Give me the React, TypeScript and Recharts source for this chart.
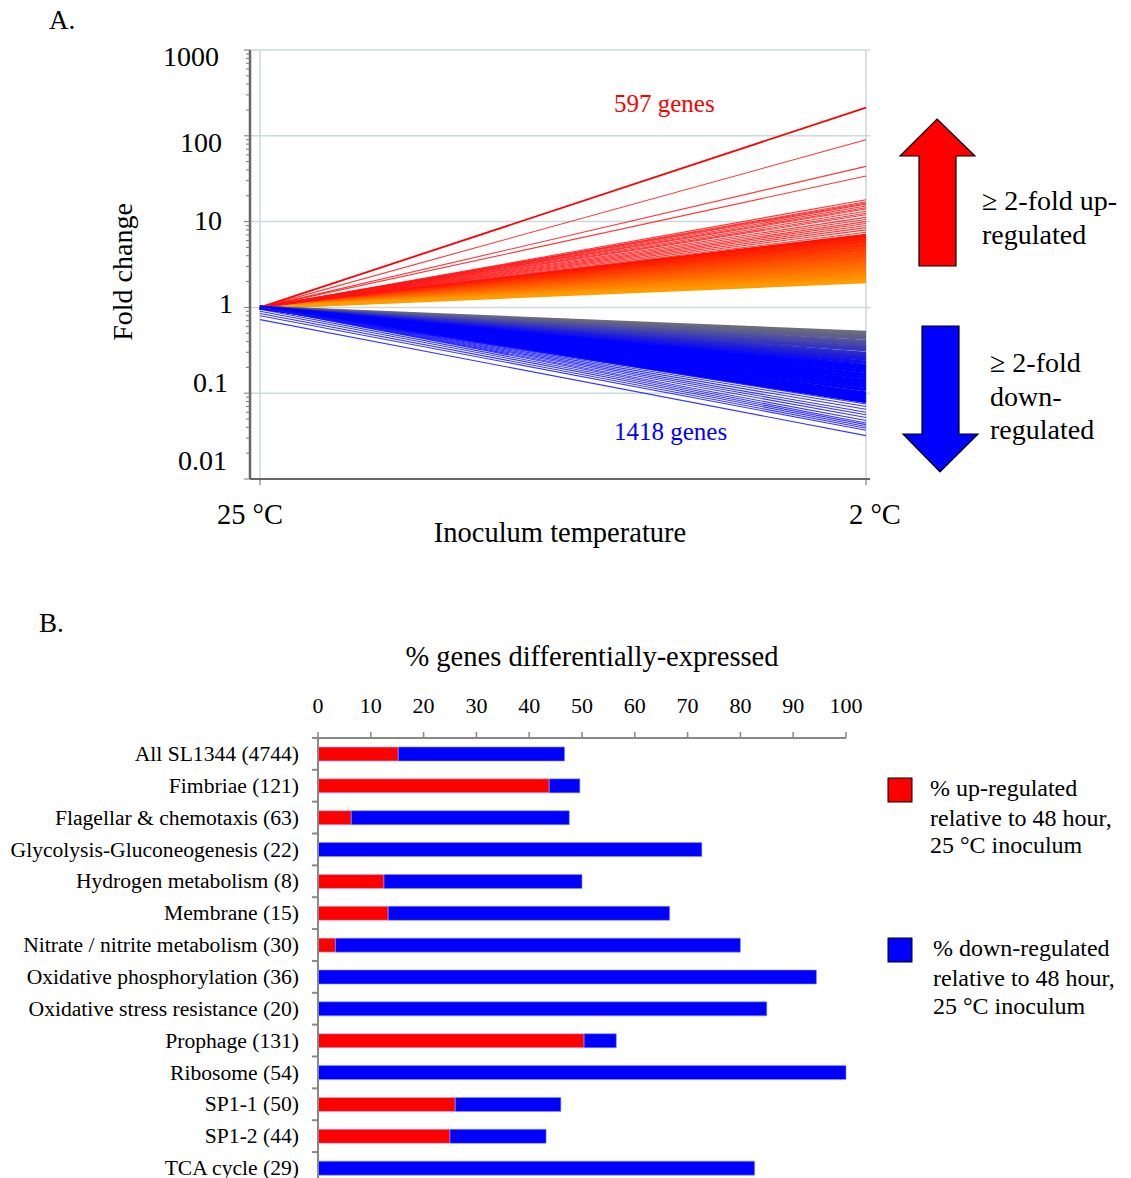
import React from 'react';
import {
  LineChart,
  Line,
  XAxis,
  YAxis,
  CartesianGrid,
  BarChart,
  Bar,
} from 'recharts';

const SERIF = '"Liberation Serif", "Times New Roman", serif';

// ---- panel A: fold change per gene, 25 °C -> 2 °C inoculum ----
const temps = ['25 °C', '2 °C'];

// end values (fold change at 2 °C); all start at 1
const upSparseEnd = [213, 90, 44, 34, 18, 17, 16.5, 16, 15.2, 14.5, 14, 13.2, 12.5, 12, 11.2, 10.6, 10, 9.5, 9, 8.5, 8, 7.5];
const upDenseEnd = [6.9, 6.4, 5.9, 5.4, 5.0, 4.7, 4.3, 4.0, 3.7, 3.4, 3.15, 2.9, 2.7, 2.5, 2.3, 2.15, 2.0];

const downDenseEnd = [0.51, 0.47, 0.44, 0.4, 0.37, 0.34, 0.32, 0.29, 0.27, 0.25, 0.23, 0.21, 0.195, 0.18, 0.165, 0.152, 0.14, 0.13, 0.12, 0.11, 0.1, 0.093, 0.086, 0.08];
const downSparseEnd = [0.075, 0.07, 0.065, 0.06, 0.056, 0.052, 0.048, 0.045, 0.043, 0.041, 0.039, 0.037, 0.032];
const downSparseStart = [1, 1, 1, 1, 1, 1, 1, 1, 0.95, 0.9, 0.85, 0.8, 0.72];

const majorTicks = [0.01, 0.1, 1, 10, 100, 1000];
// label placement quirks of the original axis: [dx, dy]
const labelNudge: Record<string, [number, number]> = {
  '0.01': [1, -18],
  '0.1': [2, -10],
  '1': [7, -3],
  '10': [-4, -1],
  '100': [-4, 7],
  '1000': [-7, 7],
};

// ---- panel B: % genes differentially expressed per category ----
const categories = [
  'All SL1344 (4744)',
  'Fimbriae (121)',
  'Flagellar & chemotaxis (63)',
  'Glycolysis-Gluconeogenesis  (22)',
  'Hydrogen metabolism (8)',
  'Membrane (15)',
  'Nitrate / nitrite  metabolism (30)',
  'Oxidative phosphorylation (36)',
  'Oxidative stress resistance (20)',
  'Prophage (131)',
  'Ribosome (54)',
  'SP1-1 (50)',
  'SP1-2 (44)',
  'TCA cycle (29)',
];
const upPct = [15.2, 43.8, 6.3, 0, 12.5, 13.3, 3.3, 0, 0, 50.4, 0, 26, 25, 0];
const downPct = [31.5, 5.8, 41.3, 72.7, 37.5, 53.3, 76.7, 94.4, 85, 6.1, 100, 20, 18.2, 82.7];
const pctTicks = [0, 10, 20, 30, 40, 50, 60, 70, 80, 90, 100];

function mix(a: string, b: string, t: number) {
  const k = Math.max(0, Math.min(1, t));
  const pa = [1, 3, 5].map((i) => parseInt(a.slice(i, i + 2), 16));
  const pb = [1, 3, 5].map((i) => parseInt(b.slice(i, i + 2), 16));
  return 'rgb(' + pa.map((v, i) => Math.round(v + (pb[i] - v) * k)).join(',') + ')';
}

const upColor = (v: number) =>
  mix('#ff9c00', '#ff1000', (Math.log10(v) - Math.log10(2)) / (Math.log10(7) - Math.log10(2)));
const downColor = (v: number) =>
  mix('#6c6c7c', '#0000ff', (Math.log10(0.5) - Math.log10(v)) / (Math.log10(0.5) - Math.log10(0.2)));

type LineDef = { key: string; color: string; width: number };
const lineDefs: LineDef[] = [];
const lineData: Record<string, any>[] = temps.map((t) => ({ t }));

upDenseEnd.forEach((v, i) => {
  const key = 'ud' + i;
  lineData[0][key] = 1;
  lineData[1][key] = v;
  lineDefs.push({ key, color: upColor(v), width: 3.5 });
});
upSparseEnd.forEach((v, i) => {
  const key = 'us' + i;
  lineData[0][key] = 1;
  lineData[1][key] = v;
  lineDefs.push({ key, color: i === 0 ? '#ff0000' : 'rgba(255,20,20,0.85)', width: i === 0 ? 1.8 : 1.1 });
});
downDenseEnd.forEach((v, i) => {
  const key = 'dd' + i;
  lineData[0][key] = 1;
  lineData[1][key] = v;
  lineDefs.push({ key, color: downColor(v), width: 3.5 });
});
downSparseEnd.forEach((v, i) => {
  const key = 'ds' + i;
  lineData[0][key] = downSparseStart[i];
  lineData[1][key] = v;
  lineDefs.push({ key, color: 'rgba(20,20,255,0.85)', width: 1.1 });
});

const logTicks: number[] = [];
for (let d = -2; d <= 2; d++) {
  for (let m = 1; m <= 9; m++) logTicks.push(+(m * Math.pow(10, d)).toPrecision(3));
}
logTicks.push(1000);

const barData = categories.map((name, i) => ({ name, up: upPct[i], down: downPct[i] }));

function FoldTick(props: any) {
  const { x, y, payload } = props;
  const v = payload.value;
  const major = majorTicks.includes(v);
  const [dx, dy] = labelNudge[String(v)] || [0, 0];
  return (
    <g>
      <line x1={x - (major ? 6 : 4)} x2={x} y1={y} y2={y} stroke="#777" strokeWidth={1} />
      {major && (
        <text x={x - 24 + dx} y={y + dy + 9} textAnchor="end" fontSize={28} fontFamily={SERIF} fill="#000">
          {String(v)}
        </text>
      )}
    </g>
  );
}

const tempNudge = [-10, 9];
function TempTick(props: any) {
  const { x, y, payload, index } = props;
  return (
    <text x={x + tempNudge[index]} y={y + 39} textAnchor="middle" fontSize={28.5} fontFamily={SERIF} fill="#000">
      {payload.value}
    </text>
  );
}

function CatTick(props: any) {
  const { x, y, payload } = props;
  return (
    <g>
      <line x1={x - 6} x2={x} y1={y - 16} y2={y - 16} stroke="#888" strokeWidth={2} />
      <text x={x - 19} y={y + 7} textAnchor="end" fontSize={21.6} fontFamily={SERIF} fill="#000">
        {payload.value}
      </text>
    </g>
  );
}

function Overlay() {
  const t = { fontFamily: SERIF, fill: '#000' };
  return (
    <svg width={1131} height={1178} style={{ position: 'absolute', left: 0, top: 0, pointerEvents: 'none' }}>
      <text x={49} y={29} fontSize={27} {...t}>A.</text>
      <text x={0} y={0} fontSize={28} textAnchor="middle" transform="translate(132 272) rotate(-90)" {...t}>
        Fold change
      </text>
      <text x={560} y={542} fontSize={28.5} textAnchor="middle" {...t}>Inoculum temperature</text>
      <text x={614} y={112} fontSize={25} fontFamily={SERIF} fill="#ff0000">597 genes</text>
      <text x={614} y={440} fontSize={25} fontFamily={SERIF} fill="#0000ff">1418 genes</text>

      <polygon points="937,119 975,156 956,156 956,266 919,266 919,156 900,156" fill="#ff0000" stroke="#000" strokeWidth={1.2} />
      <polygon points="922,326 959,326 959,434 978,434 940,472 903,434 922,434" fill="#0000ff" stroke="#000" strokeWidth={1.2} />

      <text x={982} y={210} fontSize={28} {...t}>≥ 2-fold up-</text>
      <text x={982} y={244} fontSize={28} {...t}>regulated</text>
      <text x={990} y={372} fontSize={28} {...t}>≥ 2-fold</text>
      <text x={990} y={406} fontSize={28} {...t}>down-</text>
      <text x={990} y={439} fontSize={28} {...t}>regulated</text>

      <text x={39} y={632} fontSize={27} {...t}>B.</text>
      <text x={592} y={666} fontSize={28.5} textAnchor="middle" {...t}>% genes differentially-expressed</text>

      <rect x={888} y={778} width={24} height={24} fill="#ff0000" stroke="#000" strokeWidth={1} />
      <text x={930} y={796} fontSize={24} {...t}>% up-regulated</text>
      <text x={930} y={826} fontSize={24} {...t}>relative to 48 hour,</text>
      <text x={930} y={853} fontSize={24} {...t}>25 °C inoculum</text>

      <rect x={888} y={938} width={24} height={24} fill="#0000ff" stroke="#000" strokeWidth={1} />
      <text x={933} y={956} fontSize={24} {...t}>% down-regulated</text>
      <text x={933} y={986} fontSize={24} {...t}>relative to 48 hour,</text>
      <text x={933} y={1014} fontSize={24} {...t}>25 °C inoculum</text>
    </svg>
  );
}

export default function App() {
  return (
    <div style={{ position: 'absolute', left: 0, top: 0, width: 1131, height: 1178, background: '#fff', fontFamily: SERIF }}>
      <div style={{ position: 'absolute', left: 0, top: 0 }}>
        <LineChart width={1131} height={560} data={lineData} margin={{ top: 50, right: 261, bottom: 0, left: 150 }}>
          <CartesianGrid
            stroke="#c9dadd"
            strokeWidth={1.5}
            horizontalValues={majorTicks}
            verticalValues={temps}
          />
          <XAxis
            dataKey="t"
            scale="point"
            padding={{ left: 10, right: 4 }}
            height={81}
            tickSize={6}
            tickMargin={0}
            tick={<TempTick />}
            axisLine={{ stroke: '#666', strokeWidth: 2 }}
            tickLine={{ stroke: '#666' }}
            interval={0}
          />
          <YAxis
            scale="log"
            domain={[0.01, 1000]}
            allowDataOverflow
            ticks={logTicks}
            interval={0}
            width={100}
            tickSize={0}
            tickMargin={0}
            tickLine={false}
            tick={<FoldTick />}
            axisLine={{ stroke: '#666', strokeWidth: 2.5 }}
          />
          {lineDefs.map((d) => (
            <Line
              key={d.key}
              dataKey={d.key}
              type="linear"
              stroke={d.color}
              strokeWidth={d.width}
              dot={false}
              activeDot={false}
              isAnimationActive={false}
            />
          ))}
        </LineChart>
      </div>

      <div style={{ position: 'absolute', left: 0, top: 600 }}>
        <BarChart
          layout="vertical"
          width={1131}
          height={600}
          data={barData}
          margin={{ top: 98, right: 285, bottom: 16, left: 18 }}
          barSize={14}
        >
          <XAxis
            type="number"
            orientation="top"
            domain={[0, 100]}
            ticks={pctTicks}
            interval={0}
            height={40}
            tickSize={6}
            tickMargin={19}
            tick={{ fontSize: 22, fontFamily: SERIF, fill: '#000' }}
            axisLine={{ stroke: '#888', strokeWidth: 2 }}
            tickLine={{ stroke: '#888', strokeWidth: 1.5 }}
          />
          <YAxis
            type="category"
            dataKey="name"
            width={300}
            interval={0}
            tickSize={0}
            tickMargin={0}
            tickLine={false}
            tick={<CatTick />}
            axisLine={{ stroke: '#888', strokeWidth: 2 }}
          />
          <Bar dataKey="up" stackId="a" fill="#ff0000" stroke="#b8b8ff" strokeWidth={0.6} isAnimationActive={false} />
          <Bar dataKey="down" stackId="a" fill="#0000ff" stroke="#9090ff" strokeWidth={0.6} isAnimationActive={false} />
        </BarChart>
      </div>

      <Overlay />
    </div>
  );
}
